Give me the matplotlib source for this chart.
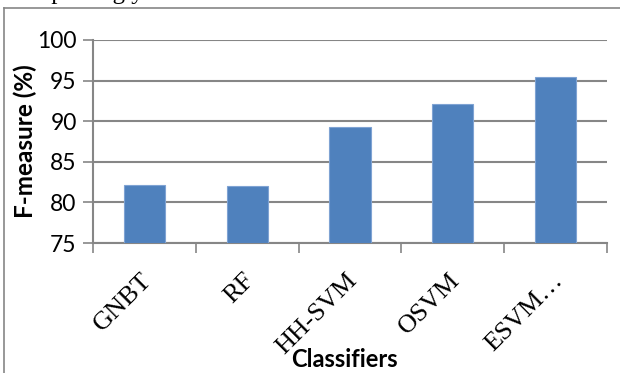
import matplotlib.pyplot as plt
import numpy as np

# F-measure per classifier
classifiers = ['GNBT', 'RF', 'HH-SVM', 'OSVM', 'ESVM…']
fmeasure = [82.2, 82.0, 89.3, 92.1, 95.4]
yticks = [75, 80, 85, 90, 95, 100]

bar_color = '#4F81BD'
grid_color = '#868686'

fig = plt.figure(figsize=(6.2, 3.73), dpi=100)
ax = fig.add_axes([0.1505, 0.3485, 0.828, 0.5443])

x = np.arange(len(classifiers))
ax.bar(x, [v - 75 for v in fmeasure], bottom=75, width=0.4, color=bar_color,
       edgecolor='#7FA3D3', linewidth=0.8, zorder=3)

ax.set_xlim(-0.5, len(classifiers) - 0.5)
ax.set_ylim(75, 100)
ax.set_yticks(yticks)
ax.set_yticklabels([str(t) for t in yticks], fontfamily='Lato', fontsize=16.5)
ax.yaxis.grid(True, color=grid_color, linewidth=1.5, zorder=0)
ax.tick_params(axis='y', length=7, width=1.2, color=grid_color, pad=5)

# category ticks sit between the bars
ax.set_xticks(np.arange(len(classifiers) + 1) - 0.5)
ax.set_xticklabels([])
ax.tick_params(axis='x', length=7, width=1.2, color=grid_color)
for i, name in enumerate(classifiers):
    ax.annotate(name, xy=(i, 75), xycoords='data', xytext=(-3, -19),
                textcoords='offset points', rotation=45, ha='right', va='top',
                rotation_mode='anchor', fontfamily='Liberation Serif', fontsize=19)

for side in ['top', 'right']:
    ax.spines[side].set_visible(False)
ax.spines['left'].set_color(grid_color)
ax.spines['left'].set_linewidth(1.5)
ax.spines['bottom'].set_color(grid_color)
ax.spines['bottom'].set_linewidth(1.5)

ax.set_ylabel('F-measure (%)', fontfamily='Lato', fontweight='bold', fontsize=17.5, labelpad=0)
fig.text(0.556, 0.035, 'Classifiers', ha='center', va='center',
         fontfamily='Lato', fontweight='bold', fontsize=17)

# outer chart frame (top and left edges)
fig.add_artist(plt.Line2D([4 / 620, 1], [1 - 8 / 373, 1 - 8 / 373],
                          color=grid_color, linewidth=1.2))
fig.add_artist(plt.Line2D([4 / 620, 4 / 620], [0, 1 - 8 / 373],
                          color=grid_color, linewidth=1.2))

# tail of the line of running text above the chart
fig.text(0.035, 1 + 1 / 373, 'respecting y', ha='left', va='baseline',
         fontfamily='Liberation Serif', fontsize=18)

fig.savefig('out.png', dpi=100)
